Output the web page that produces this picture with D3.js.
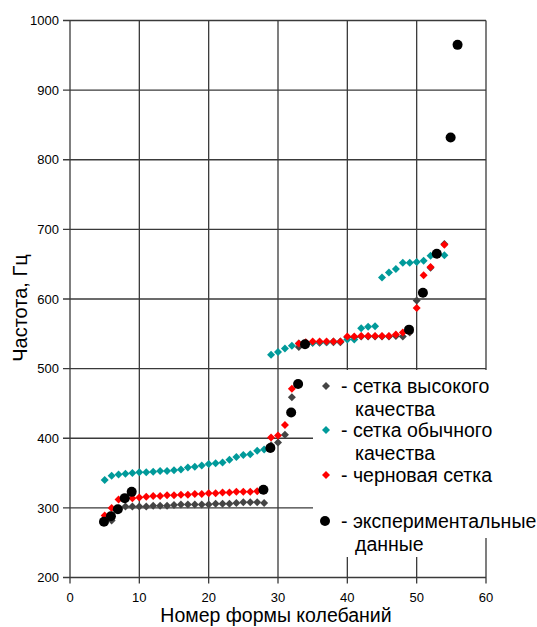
<!DOCTYPE html>
<html>
<head>
<meta charset="utf-8">
<script src="https://cdn.jsdelivr.net/npm/d3@7"></script>
<style>
  body { margin: 0; background: #fff; }
  svg { display: block; }
  text { font-family: "Liberation Sans", Arial, sans-serif; fill: #000; }
</style>
</head>
<body>
<script>
// mode numbers shared by the three mesh series
const meshModes = [5, 6, 7, 8, 9, 10, 11, 12, 13, 14, 15, 16, 17, 18, 19, 20, 21, 22, 23, 24,
  25, 26, 27, 28, 29, 30, 31, 32, 33, 34, 35, 36, 37, 38, 39, 40, 41, 42, 43, 44,
  45, 46, 47, 48, 49, 50, 51, 52, 53, 54];

// high quality mesh (gray)
const highQuality = [280, 282, 299, 302, 302, 302, 302, 303, 303, 303, 304, 305, 305, 305, 305,
  305, 306, 306, 306, 307, 308, 308, 308, 307,
  390, 394, 405, 459,
  531, 536, 537, 537, 538, 538, 538,
  545, 545, 546, 546, 546, 546, 546, 547, 546,
  552, 598, 608, 645, 664, 679];

// normal quality mesh (teal)
const normalQuality = [340, 346, 348, 349, 350, 351, 351, 352, 353, 353, 354, 355, 358, 359, 361,
  363, 364, 365, 369, 373, 376, 377, 382, 384,
  520, 524, 529, 533, 536, 537, 537, 538, 538, 539, 539, 542, 542,
  558, 560, 561,
  631, 638, 643, 652, 652, 653, 655, 662, 665, 663];

// rough mesh (red)
const roughMesh = [289, 300, 312, 313, 314, 315, 316, 317, 317, 318, 318, 319, 319, 320, 320,
  321, 321, 322, 322, 323, 323, 323, 324, 325,
  401, 404, 419, 471,
  536, 538, 539, 539, 539, 539, 539,
  546, 546, 547, 547, 547, 547, 547, 549, 552,
  554, 587, 634, 646, 664, 678];

// experiment
const expModes = [5, 6, 7, 8, 9, 28, 29, 32, 33, 34, 49, 51, 53, 55, 56];
const expFreq = [280, 288, 298, 314, 323, 326, 386, 437, 478, 535, 556, 609, 665, 832, 965];

const xTicks = [0, 10, 20, 30, 40, 50, 60];
const yTicks = [200, 300, 400, 500, 600, 700, 800, 900, 1000];

const legendItems = [
  { lines: ['- сетка высокого', 'качества'], color: '#444', shape: 'diamond' },
  { lines: ['- сетка обычного', 'качества'], color: '#009a9a', shape: 'diamond' },
  { lines: ['- черновая сетка'], color: '#ff0000', shape: 'diamond' },
  { lines: ['- экспериментальные', 'данные'], color: '#000', shape: 'circle' }
];

const width = 537, height = 627;
const svg = d3.select('body').append('svg')
  .attr('width', width)
  .attr('height', height);

let x = d3.scaleLinear().domain([0, 60]).range([70, 486]);
let y = d3.scaleLinear().domain([200, 1000]).range([577.5, 20.5]);

// grid
let grid = svg.append('g').attr('class', 'grid');
grid.selectAll('.vert_lines')
  .data(xTicks)
  .enter()
  .append('line')
  .attr('class', 'vert_lines')
  .attr('x1', d => x(d)).attr('x2', d => x(d))
  .attr('y1', y(1000)).attr('y2', y(200) + 6)
  .style('stroke', '#3a3a3a')
  .style('stroke-width', '1.3px');

grid.selectAll('.horz_lines')
  .data(yTicks)
  .enter()
  .append('line')
  .attr('class', 'horz_lines')
  .attr('x1', x(0) - 7).attr('x2', x(60))
  .attr('y1', d => y(d)).attr('y2', d => y(d))
  .style('stroke', '#3a3a3a')
  .style('stroke-width', '1.3px');

// tick labels
svg.append('g')
  .selectAll('text')
  .data(yTicks)
  .enter()
  .append('text')
  .attr('x', x(0) - 11)
  .attr('y', d => y(d))
  .attr('dy', '0.36em')
  .attr('text-anchor', 'end')
  .style('font-size', '13px')
  .text(d => d);

svg.append('g')
  .selectAll('text')
  .data(xTicks)
  .enter()
  .append('text')
  .attr('x', d => x(d))
  .attr('y', y(200) + 24)
  .attr('text-anchor', 'middle')
  .style('font-size', '13px')
  .text(d => d);

// axis titles
svg.append('text')
  .attr('transform', 'translate(27,308) rotate(-90)')
  .attr('text-anchor', 'middle')
  .style('font-size', '20px')
  .text('Частота, Гц');

svg.append('text')
  .attr('x', 276)
  .attr('y', 622)
  .attr('text-anchor', 'middle')
  .style('font-size', '19.5px')
  .text('Номер формы колебаний');

// legend background hides the grid behind it
svg.append('rect')
  .attr('x', 313).attr('y', 370)
  .attr('width', width - 313).attr('height', 168)
  .style('fill', '#fff');
svg.append('rect')
  .attr('x', 313).attr('y', 537)
  .attr('width', 160).attr('height', 20)
  .style('fill', '#fff');

// points
const diamond = d3.symbol().type(d3.symbolSquare).size(32);

function draw_mesh(values, color, cls) {
  svg.append('g')
    .selectAll('.' + cls)
    .data(values)
    .enter()
    .append('path')
    .attr('class', cls)
    .attr('d', diamond)
    .attr('transform', (d, i) =>
      'translate(' + x(meshModes[i]) + ',' + y(d) + ') rotate(45)')
    .style('fill', color);
}

draw_mesh(highQuality, '#444', 'gray_pt');
draw_mesh(normalQuality, '#009a9a', 'teal_pt');
draw_mesh(roughMesh, '#ff0000', 'red_pt');

svg.append('g')
  .selectAll('circle')
  .data(expFreq)
  .enter()
  .append('circle')
  .attr('cx', (d, i) => x(expModes[i]) - 0.7)
  .attr('cy', d => y(d))
  .attr('r', 5)
  .style('fill', '#000');

// legend
const legendRows = [386, 430, 475, 521];
let legend = svg.append('g').attr('class', 'legend');
legendItems.forEach(function(item, k) {
  let cy = legendRows[k];
  if (item.shape === 'circle') {
    legend.append('circle')
      .attr('cx', 325).attr('cy', cy).attr('r', 5)
      .style('fill', item.color);
  } else {
    legend.append('path')
      .attr('d', diamond)
      .attr('transform', 'translate(326,' + cy + ') rotate(45)')
      .style('fill', item.color);
  }
  item.lines.forEach(function(line, j) {
    legend.append('text')
      .attr('x', j === 0 ? 341 : 355)
      .attr('y', cy + j * 22.5)
      .attr('dy', '0.36em')
      .style('font-size', '19.5px')
      .text(line);
  });
});
</script>
</body>
</html>
